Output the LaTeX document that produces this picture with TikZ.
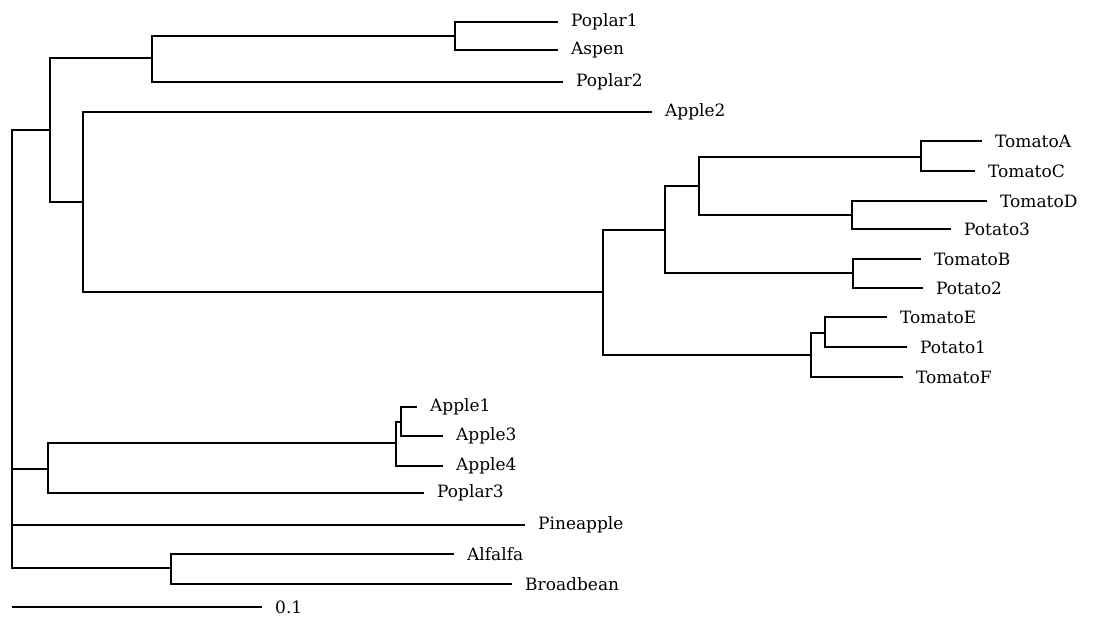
\documentclass[tikz,border=0pt]{standalone}
\usepackage{fontspec}
\setmainfont{DejaVu Serif}
\usepackage{tikz}
\usetikzlibrary{positioning}

\begin{document}
\begin{tikzpicture}[x=1pt, y=-1pt,
  branch/.style={line width=1.4pt},
  leaf/.style={anchor=west, inner xsep=13pt, inner ysep=0pt, font=\fontsize{17}{20}\selectfont}
]
\useasboundingbox (0,0) rectangle (1096,619);

% internal nodes
\coordinate (r) at (12,349);
\coordinate (A) at (50,130);
\coordinate (P) at (152,58);
\coordinate (Q) at (455,36);
\coordinate (B) at (83,202);
\coordinate (C) at (603,292);
\coordinate (D) at (665,230);
\coordinate (E) at (699,186);
\coordinate (F) at (921,157);
\coordinate (G) at (852,215);
\coordinate (H) at (853,273);
\coordinate (I) at (811,355);
\coordinate (J) at (825,333);
\coordinate (K) at (48,469);
\coordinate (L) at (396,443);
\coordinate (N) at (401,422);
\coordinate (M) at (171,568);

% leaves
\node[leaf] (poplar1) at (558,22) {Poplar1};
\node[leaf] (aspen) at (558,50) {Aspen};
\node[leaf] (poplar2) at (563,82) {Poplar2};
\node[leaf] (apple2) at (652,112) {Apple2};
\node[leaf] (tomatoA) at (982,141) {TomatoA};
\node[leaf] (tomatoC) at (975,171) {TomatoC};
\node[leaf] (tomatoD) at (987,201) {TomatoD};
\node[leaf] (potato3) at (951,229) {Potato3};
\node[leaf] (tomatoB) at (921,259) {TomatoB};
\node[leaf] (potato2) at (923,288) {Potato2};
\node[leaf] (tomatoE) at (887,317) {TomatoE};
\node[leaf] (potato1) at (907,347) {Potato1};
\node[leaf] (tomatoF) at (903,377) {TomatoF};
\node[leaf] (apple1) at (417,407) {Apple1};
\node[leaf] (apple3) at (443,436) {Apple3};
\node[leaf] (apple4) at (443,466) {Apple4};
\node[leaf] (poplar3) at (424,493) {Poplar3};
\node[leaf] (pineapple) at (525,525) {Pineapple};
\node[leaf] (alfalfa) at (454,554) {Alfalfa};
\node[leaf] (broadbean) at (512,584) {Broadbean};

% branches
\draw[branch] (r) |- (A);
\draw[branch] (r) |- (K);
\draw[branch] (r) |- (pineapple.west);
\draw[branch] (r) |- (M);
\draw[branch] (A) |- (P);
\draw[branch] (A) |- (B);
\draw[branch] (P) |- (Q);
\draw[branch] (P) |- (poplar2.west);
\draw[branch] (Q) |- (poplar1.west);
\draw[branch] (Q) |- (aspen.west);
\draw[branch] (B) |- (apple2.west);
\draw[branch] (B) |- (C);
\draw[branch] (C) |- (D);
\draw[branch] (C) |- (I);
\draw[branch] (D) |- (E);
\draw[branch] (D) |- (H);
\draw[branch] (E) |- (F);
\draw[branch] (E) |- (G);
\draw[branch] (F) |- (tomatoA.west);
\draw[branch] (F) |- (tomatoC.west);
\draw[branch] (G) |- (tomatoD.west);
\draw[branch] (G) |- (potato3.west);
\draw[branch] (H) |- (tomatoB.west);
\draw[branch] (H) |- (potato2.west);
\draw[branch] (I) |- (J);
\draw[branch] (I) |- (tomatoF.west);
\draw[branch] (J) |- (tomatoE.west);
\draw[branch] (J) |- (potato1.west);
\draw[branch] (K) |- (L);
\draw[branch] (K) |- (poplar3.west);
\draw[branch] (L) |- (N);
\draw[branch] (L) |- (apple4.west);
\draw[branch] (N) |- (apple1.west);
\draw[branch] (N) |- (apple3.west);
\draw[branch] (M) |- (alfalfa.west);
\draw[branch] (M) |- (broadbean.west);

% scale bar
\coordinate (s0) at (12,607);
\node[leaf] (scale) at (262,607) {0.1};
\draw[branch] (s0) -- (scale.west);
\end{tikzpicture}
\end{document}
